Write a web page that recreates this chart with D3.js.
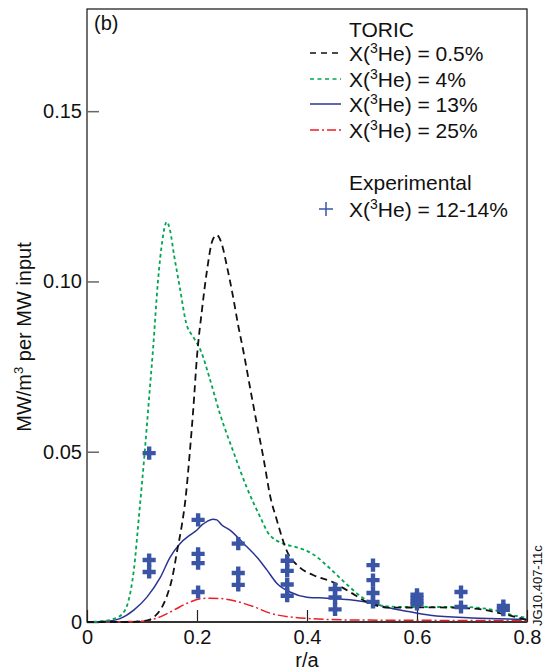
<!DOCTYPE html>
<html><head><meta charset="utf-8">
<script src="https://cdn.jsdelivr.net/npm/d3@7"></script>
<style>
body{margin:0;background:#fff;}
text{font-family:"Liberation Sans", Arial, Helvetica, sans-serif;fill:#111;}
</style>
</head><body>
<svg id="chart" width="546" height="670"></svg>
<script>
// ---- data ----
const xTicks = [0, 0.2, 0.4, 0.6, 0.8];
const xTickLabels = ["0", "0.2", "0.4", "0.6", "0.8"];
const yTicks = [0, 0.05, 0.10, 0.15];
const yTickLabels = ["0", "0.05", "0.10", "0.15"];

const seriesLabels = ["0.5%", "4%", "13%", "25%"];

// X(3He) = 0.5% (black dashed)
const r05 = [0, 0.08, 0.11, 0.122, 0.135, 0.145, 0.155, 0.164, 0.172, 0.179, 0.187, 0.193, 0.2, 0.209, 0.218, 0.228, 0.236, 0.245, 0.255, 0.265, 0.275, 0.285, 0.294, 0.302, 0.309, 0.321, 0.333, 0.345, 0.363, 0.387, 0.411, 0.447, 0.478, 0.509, 0.55, 0.62, 0.70, 0.75, 0.8];
const v05 = [0, 0, 0.0005, 0.0015, 0.004, 0.0075, 0.013, 0.021, 0.028, 0.036, 0.050, 0.062, 0.078, 0.0916, 0.103, 0.112, 0.1136, 0.111, 0.104, 0.096, 0.087, 0.079, 0.071, 0.064, 0.058, 0.048, 0.037, 0.030, 0.021, 0.016, 0.0138, 0.0117, 0.0088, 0.0059, 0.0042, 0.0043, 0.0040, 0.0026, 0.0006];

// X(3He) = 4% (green dotted)
const r4 = [0, 0.03, 0.05, 0.065, 0.075, 0.085, 0.095, 0.105, 0.113, 0.12, 0.129, 0.137, 0.145, 0.151, 0.158, 0.169, 0.18, 0.194, 0.206, 0.224, 0.242, 0.267, 0.29, 0.315, 0.33, 0.357, 0.38, 0.41, 0.44, 0.47, 0.50, 0.53, 0.57, 0.62, 0.68, 0.73, 0.78, 0.8];
const v4 = [0, 0.0003, 0.001, 0.0025, 0.006, 0.015, 0.032, 0.050, 0.066, 0.080, 0.100, 0.112, 0.1175, 0.115, 0.108, 0.098, 0.088, 0.0835, 0.080, 0.071, 0.061, 0.0496, 0.0397, 0.0308, 0.026, 0.023, 0.022, 0.020, 0.016, 0.0114, 0.0073, 0.005, 0.0044, 0.0044, 0.0044, 0.0038, 0.0018, 0.0012];

// X(3He) = 13% (blue solid)
const r13 = [0, 0.036, 0.06, 0.085, 0.109, 0.133, 0.151, 0.169, 0.187, 0.2, 0.209, 0.218, 0.229, 0.236, 0.245, 0.26, 0.285, 0.309, 0.327, 0.345, 0.369, 0.4, 0.436, 0.478, 0.515, 0.551, 0.587, 0.624, 0.7, 0.8];
const v13 = [0, 0.0002, 0.001, 0.0035, 0.0073, 0.013, 0.019, 0.023, 0.0255, 0.027, 0.0285, 0.0295, 0.0302, 0.0300, 0.0285, 0.027, 0.023, 0.019, 0.0153, 0.0114, 0.0088, 0.0073, 0.007, 0.0065, 0.0056, 0.0041, 0.003, 0.002, 0.0012, 0.0008];

// X(3He) = 25% (red dash-dot)
const r25 = [0, 0.1, 0.133, 0.158, 0.182, 0.206, 0.224, 0.242, 0.273, 0.303, 0.333, 0.387, 0.478, 0.6, 0.8];
const v25 = [0, 0.0002, 0.0015, 0.0035, 0.0055, 0.0068, 0.007, 0.0069, 0.006, 0.0045, 0.0026, 0.0012, 0.0006, 0.0005, 0.0004];

// Experimental X(3He) = 12-14%
const expR = [0.113, 0.113, 0.113, 0.202, 0.202, 0.202, 0.202, 0.275, 0.275, 0.275, 0.364, 0.364, 0.364, 0.364, 0.451, 0.451, 0.451, 0.52, 0.52, 0.52, 0.52, 0.6, 0.6, 0.6, 0.6, 0.68, 0.68, 0.757, 0.757];
const expV = [0.0496, 0.0182, 0.0147, 0.030, 0.020, 0.0173, 0.0088, 0.023, 0.0144, 0.0109, 0.018, 0.015, 0.011, 0.0077, 0.0097, 0.0072, 0.0037, 0.0167, 0.0123, 0.0085, 0.0059, 0.0080, 0.0070, 0.0060, 0.0053, 0.0088, 0.0044, 0.0047, 0.0036];

// ---- chart ----
const svg = d3.select("#chart");
const L = 87, R = 527, T = 9, B = 622;
const x = d3.scaleLinear().domain([0, 0.8]).range([L, R]);
const y = d3.scaleLinear().domain([0, 0.18]).range([B, T]);

const blueLine = "#2b3494", plusCol = "#3a55a6", green = "#00a651", red = "#ee1c25";
const FONT = '"Liberation Sans", Arial, sans-serif';

// frame
svg.append("rect").attr("x", L).attr("y", T).attr("width", R - L).attr("height", B - T)
  .attr("fill", "none").attr("stroke", "#111").attr("stroke-width", 1.2);

// y axis ticks (inside)
const yAxis = d3.axisLeft(y).tickValues(yTicks).tickSize(-12).tickPadding(5)
  .tickFormat((d, i) => yTickLabels[i]);
const gy = svg.append("g").attr("transform", `translate(${L},0)`).call(yAxis);
gy.select(".domain").remove();
gy.selectAll(".tick line").attr("stroke", "#666").attr("stroke-width", 1.5);
gy.selectAll("text").attr("font-size", 20).attr("fill", "#111").style("font-family", FONT);

// x axis ticks (inside)
const xAxis = d3.axisBottom(x).tickValues(xTicks).tickSize(-12).tickPadding(8)
  .tickFormat((d, i) => xTickLabels[i]);
const gx = svg.append("g").attr("transform", `translate(0,${B})`).call(xAxis);
gx.select(".domain").remove();
gx.selectAll(".tick line").attr("stroke", "#222").attr("stroke-width", 1.2);
gx.selectAll("text").attr("font-size", 20).attr("fill", "#111").style("font-family", FONT);
svg.append("line").attr("x1", L).attr("x2", R).attr("y1", B).attr("y2", B)
  .attr("stroke", "#333").attr("stroke-width", 1.8);

// axis titles
svg.append("text").attr("x", (L + R) / 2).attr("y", 667).attr("text-anchor", "middle")
  .attr("font-size", 20).text("r/a");
const yt = svg.append("text").attr("transform", "translate(31,337) rotate(-90)")
  .attr("text-anchor", "middle").attr("font-size", 20);
yt.append("tspan").text("MW/m");
yt.append("tspan").attr("font-size", 13).attr("dy", -8).text("3");
yt.append("tspan").attr("dy", 8).text(" per MW input");

svg.append("text").attr("x", 94).attr("y", 30).attr("font-size", 20).text("(b)");
svg.append("text").attr("transform", "translate(542,626) rotate(-90)")
  .attr("font-size", 13).text("JG10.407-11c");

// lines
const plot = svg.append("g");
const line = d3.line().x(d => x(d[0])).y(d => y(d[1])).curve(d3.curveMonotoneX);
const series = [
  {r: r05, v: v05, color: "#111", dash: "7,4.5", w: 1.8},
  {r: r4, v: v4, color: green, dash: "3.5,3", w: 1.8},
  {r: r13, v: v13, color: blueLine, dash: null, w: 1.5},
  {r: r25, v: v25, color: red, dash: "10,3,2,3", w: 1.5}
];
[3, 2, 1, 0].forEach(i => {
  const s = series[i];
  plot.append("path").datum(d3.zip(s.r, s.v)).attr("d", line)
    .attr("fill", "none").attr("stroke", s.color).attr("stroke-width", s.w)
    .attr("stroke-dasharray", s.dash);
});

// experimental points
const cross = d3.symbol(d3.symbolCross, 96);
plot.selectAll("path.exp").data(d3.zip(expR, expV)).join("path").attr("class", "exp")
  .attr("transform", d => `translate(${x(d[0])},${y(d[1])})`)
  .attr("d", cross).attr("fill", plusCol);

// legend
const lg = svg.append("g");
const fs = 21;
lg.append("text").attr("x", 349).attr("y", 37).attr("font-size", fs).text("TORIC");
const rowY = [53, 79, 104, 130];
series.forEach((s, i) => {
  lg.append("line").attr("x1", 310).attr("x2", 341).attr("y1", rowY[i]).attr("y2", rowY[i])
    .attr("stroke", s.color).attr("stroke-width", 1.5)
    .attr("stroke-dasharray", i === 0 ? "6,5" : i === 1 ? "4,3.5" : i === 3 ? "9,3,2,3" : null);
  const t = lg.append("text").attr("x", 349).attr("y", rowY[i] + 8).attr("font-size", fs);
  t.append("tspan").text("X(");
  t.append("tspan").attr("font-size", 14).attr("dy", -8).text("3");
  t.append("tspan").attr("dy", 8).text("He) = " + seriesLabels[i]);
});
lg.append("text").attr("x", 349).attr("y", 190).attr("font-size", fs).text("Experimental");
const py = 209;
lg.append("line").attr("x1", 319).attr("x2", 333).attr("y1", py).attr("y2", py)
  .attr("stroke", plusCol).attr("stroke-width", 1.5);
lg.append("line").attr("x1", 326).attr("x2", 326).attr("y1", py - 7).attr("y2", py + 7)
  .attr("stroke", plusCol).attr("stroke-width", 1.5);
const te = lg.append("text").attr("x", 349).attr("y", py + 8).attr("font-size", fs);
te.append("tspan").text("X(");
te.append("tspan").attr("font-size", 14).attr("dy", -8).text("3");
te.append("tspan").attr("dy", 8).text("He) = 12-14%");
</script>
</body></html>
